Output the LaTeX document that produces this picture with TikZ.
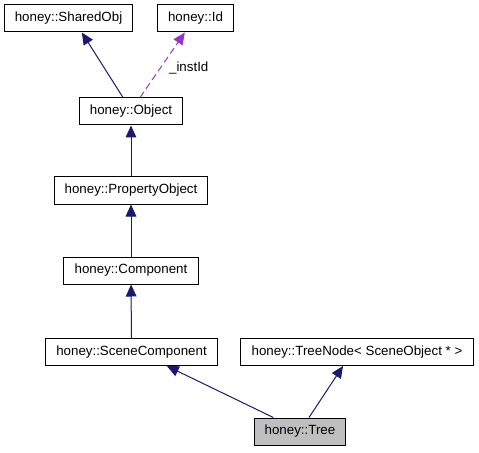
\documentclass[tikz,border=0pt]{standalone}
\usepackage{fontspec}
\setmainfont{Liberation Sans}
\usetikzlibrary{arrows.meta}
\definecolor{edgeblue}{HTML}{191970}
\definecolor{edgepurple}{HTML}{9A32CD}
\tikzset{cls/.style = {draw, line width=0.75pt, fill=white, inner xsep=8pt, minimum height=20.25pt, font=\fontsize{10}{12}\selectfont}}
\tikzset{inherit/.style = {edgeblue, line width=0.75pt, -{Triangle[length=9pt, width=8pt]}}}
\tikzset{usage/.style = {edgepurple, dashed, dash pattern=on 5pt off 3pt, line width=0.75pt, -{Triangle[length=9pt, width=8pt]}}}

\begin{document}
\begin{tikzpicture}[x=0.75pt, y=-0.75pt]
\useasboundingbox (0,0) rectangle (479,453);
% classes
\node [cls] (shared) at (68.5,18.5) {honey::SharedObj};
\node [cls] (id) at (195.5,18.5) {honey::Id};
\node [cls] (object) at (131,111.5) {honey::Object};
\node [cls] (propobj) at (131,190.5) {honey::PropertyObject};
\node [cls] (component) at (131,270.5) {honey::Component};
\node [cls] (scenecomp) at (131.5,352) {honey::SceneComponent};
\node [cls] (treenode) at (357,352) {honey::TreeNode< SceneObject * >};
\node [cls, fill=black!25] (tree) at (300,431.5) {honey::Tree};
% relations
\draw [inherit] ([xshift=-6pt]object.north) -- ([xshift=10pt]shared.south);
\draw [usage] ([xshift=6.75pt]object.north) -- ([xshift=-8pt]id.south)
  node [pos=0.45, right=3pt, black, font=\fontsize{10}{12}\selectfont] {\_instId};
\draw [inherit] (propobj) -- (object);
\draw [inherit] (component) -- (propobj);
\draw [inherit] (scenecomp) -- (component);
\draw [inherit] ([xshift=-20pt]tree.north) -- ([xshift=26.5pt]scenecomp.south);
\draw [inherit] ([xshift=6.75pt]tree.north) -- ([xshift=-10.5pt]treenode.south);
\end{tikzpicture}
\end{document}
